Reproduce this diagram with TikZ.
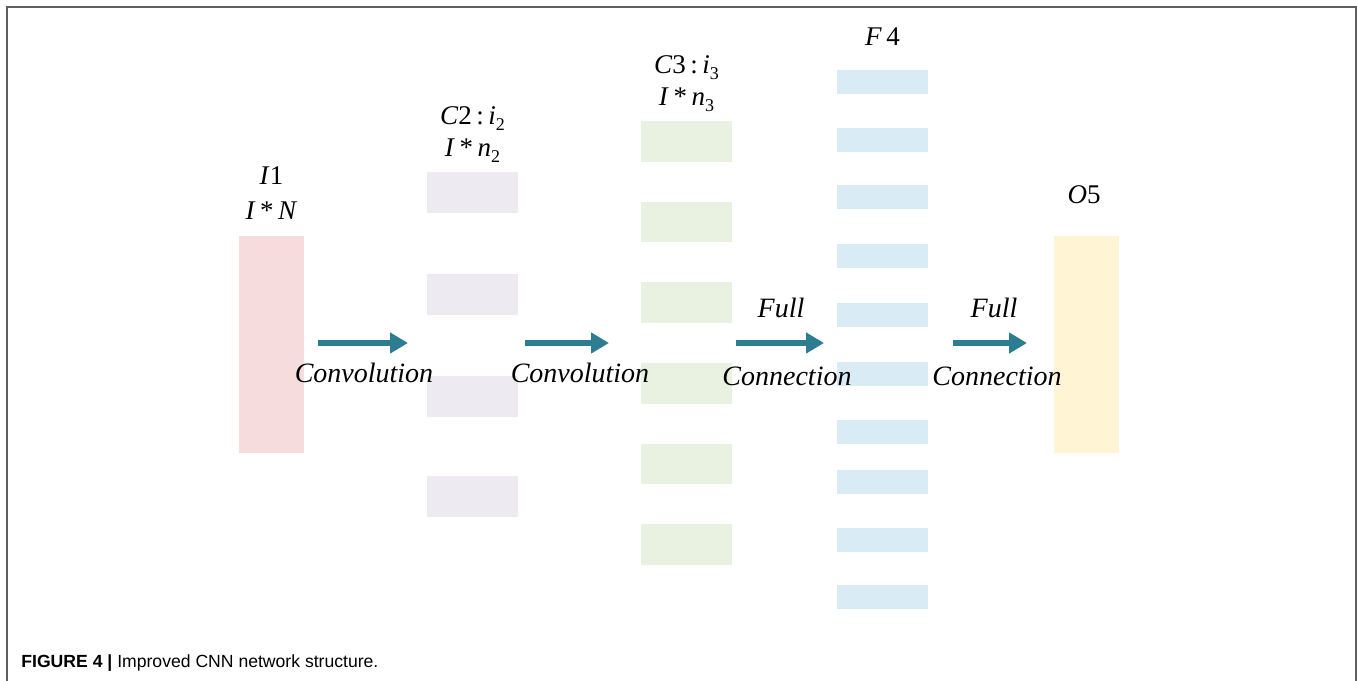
\documentclass[tikz,border=0pt]{standalone}
\usepackage{fontspec}
\setmainfont{Liberation Serif}
\setsansfont{Liberation Sans}
\usetikzlibrary{arrows.meta}
\definecolor{flowteal}{RGB}{44,124,146}
\definecolor{inpink}{RGB}{246,220,220}
\definecolor{convlilac}{RGB}{238,234,242}
\definecolor{convgreen}{RGB}{233,241,225}
\definecolor{fullblue}{RGB}{217,235,245}
\definecolor{outyellow}{RGB}{255,244,212}
\definecolor{framegray}{RGB}{95,95,95}
\newcommand{\lowsub}[1]{\raisebox{-0.55ex}{\fontsize{9}{10}\selectfont #1}}
\tikzset{
  layer/.style={rectangle,inner sep=0pt,minimum width=45.5pt},
  colbox/.style={rectangle,inner sep=0pt,minimum width=32.5pt,minimum height=108.5pt},
  lab/.style={anchor=base,inner sep=0pt,font=\fontsize{13.5}{16}\selectfont},
  flowlab/.style={anchor=base,inner sep=0pt,font=\fontsize{14}{17}\selectfont\itshape},
  flow/.style={flowteal,line width=2.6pt,-{Triangle[length=9pt,width=10pt]}}
}
\begin{document}
\begin{tikzpicture}[x=0.5pt,y=-0.5pt]
		\useasboundingbox (0,0) rectangle (1357,681);
		\draw[framegray,line width=1pt] (7,681)--(7,6.5)--(1355.5,6.5)--(1355.5,681);
		\node[colbox,fill=inpink] (in) at (271.5,344) {};
		\node[colbox,fill=outyellow] (out) at (1086,344) {};
		\path[every node/.style={layer,minimum height=20.5pt,fill=convlilac}] (472.5,192.5) node (ca) {} (472.5,294) node (cb) {}
		(472.5,396) node (cc) {} (472.5,496) node (cd) {};
		\path[every node/.style={layer,minimum height=20.3pt,fill=convgreen}] (686.5,141.5) node (da) {} (686.5,222) node (db) {}
		(686.5,302.7) node (dc) {} (686.5,383.3) node (dd) {} (686.5,464) node (de) {} (686.5,544.5) node (df) {};
		\path[every node/.style={layer,minimum height=12pt,fill=fullblue}] (882.5,82) node (fa) {} (882.5,139.7) node (fb) {}
		(882.5,197.4) node (fc) {} (882.5,255.9) node (fd) {} (882.5,314.7) node (fe) {} (882.5,373.5) node (ff) {}
		(882.5,432) node (fg) {} (882.5,482) node (fh) {} (882.5,539.7) node (fi) {} (882.5,597.4) node (fj) {};
		\node[lab] (inname) at (271.5,184) {\textit{I}1};
		\node[lab] (insize) at (271.5,219) {\textit{I}\,*\,\textit{N}};
		\node[lab] (caname) at (472.5,124) {\textit{C}2\,:\,\textit{i}\lowsub{2}};
		\node[lab] (casize) at (472.5,156) {\textit{I}\,*\,\textit{n}\lowsub{2}};
		\node[lab] (daname) at (686.5,73) {\textit{C}3\,:\,\textit{i}\lowsub{3}};
		\node[lab] (dasize) at (686.5,105) {\textit{I}\,*\,\textit{n}\lowsub{3}};
		\node[lab] (faname) at (882.5,45) {\textit{F}\,4};
		\node[lab] (outname) at (1084,203) {\textit{O}5};
		\coordinate (a1) at (318,343); \coordinate (b1) at (408,343);
		\coordinate (a2) at (525,343); \coordinate (b2) at (609,343);
		\coordinate (a3) at (736,343); \coordinate (b3) at (824,343);
		\coordinate (a4) at (953,343); \coordinate (b4) at (1027,343);
		\draw[flow] (a1)--(b1); \draw[flow] (a2)--(b2); \draw[flow] (a3)--(b3); \draw[flow] (a4)--(b4);
		\node[flowlab] (conva) at (364,382) {Convolution};
		\node[flowlab] (convb) at (580,382) {Convolution};
		\node[flowlab] (fulla) at (781,317) {Full};
		\node[flowlab] (conna) at (787,385) {Connection};
		\node[flowlab] (fullb) at (994,317) {Full};
		\node[flowlab] (connb) at (997,385) {Connection};
		\node[anchor=base west,inner sep=0pt,font=\sffamily\fontsize{8.8}{11}\selectfont] (caption) at (21,667) {\textbf{FIGURE 4 |} Improved CNN network structure.};
		\end{tikzpicture}
\end{document}
